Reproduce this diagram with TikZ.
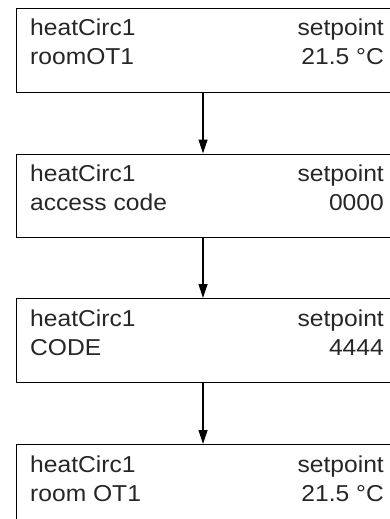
\documentclass[tikz,border=0pt]{standalone}
\usepackage{fontspec}
\setmainfont[FakeStretch=1.07]{Liberation Sans}
\usetikzlibrary{arrows.meta}
\tikzset{
  box/.style={draw=black, line width=1.2pt, anchor=north west, minimum width=400pt, minimum height=83.5pt, inner sep=0pt},
  lt/.style={anchor=base west, inner sep=0pt, text=black!85, font=\fontsize{23}{27}\selectfont},
  rt/.style={anchor=base east, inner sep=0pt, text=black!85, font=\fontsize{23}{27}\selectfont},
  conn/.style={line width=1.2pt, -{Triangle[length=14pt,width=9pt]}}
}
\begin{document}
\begin{tikzpicture}[x=1pt,y=-1pt]
\useasboundingbox (0,0) rectangle (390,519);
\clip (0,0) rectangle (390,519);
\coordinate (ax) at (203,0);
\node[box] (b1) at (16,8) {};
\node[box] (b2) at (16,153.5) {};
\node[box] (b3) at (16,298) {};
\node[box] (b4) at (16,444) {};
% box 1
\node[lt] (t1a) at (30,36) {heatCirc1};
\node[rt] (t1b) at (384,36) {setpoint};
\node[lt] (t1c) at (30,65) {roomOT1};
\node[rt] (t1d) at (384,65) {21.5 °C};
% box 2
\node[lt] (t2a) at (30,181.5) {heatCirc1};
\node[rt] (t2b) at (384,181.5) {setpoint};
\node[lt] (t2c) at (30,210.5) {access code};
\node[rt] (t2d) at (384,210.5) {0000};
% box 3
\node[lt] (t3a) at (30,326) {heatCirc1};
\node[rt] (t3b) at (384,326) {setpoint};
\node[lt] (t3c) at (30,355) {CODE};
\node[rt] (t3d) at (384,355) {4444};
% box 4
\node[lt] (t4a) at (30,472) {heatCirc1};
\node[rt] (t4b) at (384,472) {setpoint};
\node[lt] (t4c) at (30,501) {room OT1};
\node[rt] (t4d) at (384,501) {21.5 °C};
% connectors
\draw[conn] (b1.south -| ax) -- (b2.north -| ax);
\draw[conn] (b2.south -| ax) -- (b3.north -| ax);
\draw[conn] (b3.south -| ax) -- (b4.north -| ax);
\end{tikzpicture}
\end{document}
